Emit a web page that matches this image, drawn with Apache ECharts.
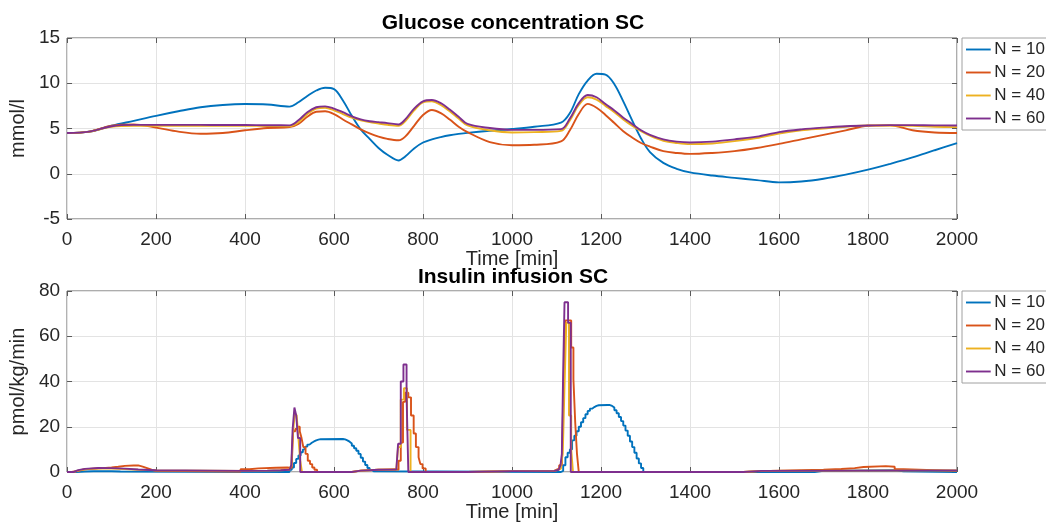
<!DOCTYPE html>
<html>
<head>
<meta charset="utf-8">
<script src="https://cdn.jsdelivr.net/npm/echarts@6/dist/echarts.min.js"></script>
<style>
  html, body { margin: 0; padding: 0; background: #fff; }
  #chart { width: 1046px; height: 528px; }
</style>
</head>
<body>
<div id="chart"></div>
<script>
// glucose, mmol/l, sampled along time [min]
var glucoseTime = [0, 50, 100, 150, 200, 250, 300, 350, 400, 450,
  500, 520, 540, 560, 580, 600, 620, 640, 660, 680,
  700, 720, 745, 760, 780, 800, 820, 840, 860, 880,
  900, 950, 1000, 1050, 1110, 1130, 1150, 1170, 1190, 1210,
  1230, 1250, 1270, 1290, 1310, 1340, 1370, 1400, 1450, 1500,
  1550, 1600, 1650, 1700, 1750, 1800, 1850, 1900, 1950, 2000];
var glucoseN10 = [4.5, 4.65, 5.3, 5.85, 6.4, 6.9, 7.35, 7.6, 7.7, 7.65,
  7.42, 7.9, 8.6, 9.2, 9.5, 9.35, 8.1, 6.4, 4.9, 3.85,
  2.85, 2.1, 1.47, 1.9, 2.8, 3.45, 3.8, 4.05, 4.25, 4.4,
  4.52, 4.75, 4.95, 5.2, 5.65, 6.7, 8.8, 10.3, 11.05, 10.95,
  9.9, 8.0, 5.9, 3.9, 2.4, 1.2, 0.55, 0.15, -0.2, -0.45,
  -0.7, -0.95, -0.85, -0.55, -0.1, 0.45, 1.1, 1.8, 2.6, 3.38];
var glucoseN20 = [4.5, 4.65, 5.3, 5.45, 5.1, 4.65, 4.42, 4.5, 4.8, 5.05,
  5.15, 5.5, 6.3, 6.85, 6.9, 6.6, 6.0, 5.45, 4.9, 4.45,
  4.1, 3.85, 3.7, 4.1, 5.3, 6.5, 7.05, 6.7, 6.0, 5.2,
  4.6, 3.5, 3.15, 3.2, 3.57, 4.8, 6.6, 7.72, 7.3, 6.5,
  5.6, 4.7, 4.0, 3.4, 3.0, 2.5, 2.3, 2.2, 2.3, 2.5,
  2.85, 3.3, 3.8, 4.3, 4.8, 5.3, 5.35, 4.8, 4.55, 4.5];
var glucoseN40 = [4.5, 4.65, 5.2, 5.3, 5.3, 5.3, 5.3, 5.3, 5.3, 5.28,
  5.25, 5.7, 6.6, 7.2, 7.3, 7.0, 6.6, 6.2, 5.9, 5.7,
  5.55, 5.4, 5.3, 5.8, 7.0, 7.9, 8.0, 7.6, 6.9, 6.1,
  5.35, 4.8, 4.56, 4.6, 4.74, 5.9, 7.6, 8.45, 8.2, 7.5,
  6.8, 6.0, 5.3, 4.7, 4.2, 3.65, 3.4, 3.27, 3.35, 3.6,
  3.95, 4.45, 4.8, 5.0, 5.2, 5.33, 5.33, 5.3, 5.2, 5.15];
var glucoseN60 = [4.5, 4.65, 5.25, 5.4, 5.4, 5.4, 5.4, 5.38, 5.38, 5.36,
  5.35, 5.9, 6.8, 7.35, 7.45, 7.2, 6.8, 6.35, 6.0, 5.8,
  5.7, 5.6, 5.45, 6.0, 7.2, 8.0, 8.15, 7.8, 7.1, 6.3,
  5.5, 5.05, 4.85, 4.85, 4.93, 6.1, 7.8, 8.7, 8.45, 7.7,
  7.0, 6.2, 5.5, 4.8, 4.3, 3.8, 3.55, 3.46, 3.55, 3.8,
  4.1, 4.6, 4.9, 5.1, 5.25, 5.33, 5.37, 5.37, 5.35, 5.33];

// insulin infusion, pmol/kg/min: [time where the step starts, value]
var insulinN10 = [[0, 0], [20, 0.2], [40, 0.3], [60, 0.4], [80, 0.3], [100, 0.2], [120, 0],
  [500, 1], [505, 2], [510, 4], [515, 5.8], [520, 7.3], [525, 8.7], [530, 10], [535, 11.2],
  [540, 12.1], [545, 12.9], [550, 13.5], [555, 14], [560, 14.3], [565, 14.5], [570, 14.6],
  [620, 14.4], [625, 14], [630, 13.4], [635, 12.6], [640, 11.6], [645, 10.5], [650, 9.4],
  [655, 8], [660, 6.3], [665, 4.6], [670, 3.1], [675, 1.8], [680, 0.9], [685, 0.3], [690, 0],
  [1110, 0.5], [1115, 3], [1120, 6.5], [1125, 8.5], [1130, 10], [1135, 14], [1140, 16],
  [1145, 18], [1150, 20], [1155, 22], [1160, 23.8], [1165, 25.5], [1170, 27], [1175, 28],
  [1180, 28.7], [1185, 29.2], [1190, 29.5], [1195, 29.6],
  [1215, 29.6], [1220, 29.2], [1225, 28.5], [1230, 27.3], [1235, 26], [1240, 24.3],
  [1245, 22.5], [1250, 20.5], [1255, 18.3], [1260, 16], [1265, 13.5], [1270, 11],
  [1275, 8.5], [1280, 6], [1285, 3.8], [1290, 1.8], [1295, 0],
  [1680, 0.5], [1700, 0.8], [1860, 0.3], [1880, 0], [2000, 0]];
var insulinN20 = [[0, 0], [10, 0.5], [25, 1.2], [40, 1.5], [60, 1.7], [80, 2.0], [100, 2.3],
  [115, 2.7], [130, 2.9], [150, 2.9], [160, 2.4], [170, 1.7], [180, 1.0], [190, 0.5], [200, 0.2],
  [390, 1.2], [410, 1.6], [430, 1.9], [470, 2.0], [495, 1.8],
  [505, 3], [508, 18], [513, 19], [518, 20], [523, 18], [527, 15], [531, 11], [536, 8],
  [541, 5], [546, 3.5], [551, 2], [556, 1], [562, 0],
  [640, 0.6], [660, 1.0], [700, 1.2], [740, 1.0],
  [745, 5], [750, 13], [755, 31], [760, 35], [767, 33], [773, 25], [779, 17], [784, 11],
  [790, 6.5], [794, 3.5], [799, 1.6], [806, 0],
  [900, 0.4], [1000, 0.5], [1095, 1], [1100, 1.5], [1106, 3], [1112, 5],
  [1116, 40], [1120, 67], [1133, 55], [1138, 41], [1142, 22], [1146, 8], [1150, 0],
  [1520, 0.4], [1560, 0.6], [1600, 0.8], [1650, 1.0], [1700, 1.3], [1740, 1.7], [1770, 2.2],
  [1790, 2.6], [1840, 2.3], [1860, 1.2], [1880, 0.5], [2000, 0.5]];
var insulinN40 = [[0, 0], [15, 0.6], [25, 1.2], [40, 1.5], [70, 1.5], [100, 1.3], [130, 1.0],
  [160, 0.7], [200, 0.5], [400, 0.6], [450, 0.8], [480, 1.0], [500, 1.2],
  [504, 3], [508, 18], [512, 26], [516, 25], [520, 15], [524, 5], [528, 0],
  [640, 0.6], [660, 1.0], [700, 1.1], [740, 1.0],
  [744, 11], [750, 32], [757, 37], [764, 18.6], [772, 0],
  [900, 0.4], [1000, 0.5], [1095, 1], [1105, 1.5], [1110, 3], [1114, 8],
  [1118, 38], [1122, 66], [1128, 25], [1133, 10], [1137, 0],
  [1520, 0.5], [1560, 0.7], [2000, 0.7]];
var insulinN60 = [[0, 0], [15, 0.8], [25, 1.4], [40, 1.8], [70, 1.7], [100, 1.5], [130, 1.1],
  [160, 0.8], [200, 0.5], [400, 0.6], [450, 0.8], [480, 1.0], [500, 1.3],
  [504, 3], [507, 19], [511, 28.5], [515, 25], [519, 15], [524, 0],
  [640, 0.6], [660, 1.0], [700, 1.1], [740, 1.0],
  [744, 12.5], [750, 40], [756, 47.5], [763, 34], [767, 0],
  [900, 0.4], [1000, 0.5], [1095, 1], [1105, 1.5], [1109, 3], [1112, 8],
  [1115, 45], [1118, 75], [1126, 66], [1132, 0],
  [1520, 0.5], [1560, 0.7], [2000, 0.7]];

var names = ['N = 10', 'N = 20', 'N = 40', 'N = 60'];
var colors = ['#0072BD', '#D95319', '#EDB120', '#7E2F8E'];

var FONT = '"Liberation Sans", Arial, Helvetica, sans-serif';
var TXT = '#262626';
var BOX = '#5a5a5a';
// thin line legend icon; the zero-length moves keep the icon box at full height
var LINE_ICON = 'path://M0,0L0,0M0,9L26,9L26,11L0,11ZM26,20L26,20';

function pairs(xs, ys) {
  var out = [];
  for (var i = 0; i < xs.length; i++) out.push([xs[i], ys[i]]);
  return out;
}

function xAx(gridIndex, pos, label) {
  return {
    type: 'value', gridIndex: gridIndex, position: pos,
    min: 0, max: 2000, interval: 200,
    name: label ? 'Time [min]' : '', nameLocation: 'middle', nameGap: 28,
    nameTextStyle: { color: TXT, fontSize: 20, fontFamily: FONT },
    axisLine: { show: false, onZero: false },
    axisTick: { show: true, inside: true, length: 5, lineStyle: { color: BOX } },
    axisLabel: { show: label, color: TXT, fontSize: 19, fontFamily: FONT, margin: 11,
      formatter: function (v) { return String(v); } },
    splitLine: { show: label, lineStyle: { color: '#e3e3e3', width: 1 } }
  };
}

function yAx(gridIndex, pos, label, min, max, interval, name) {
  return {
    type: 'value', gridIndex: gridIndex, position: pos,
    min: min, max: max, interval: interval,
    name: label ? name : '', nameLocation: 'middle', nameGap: 27, nameRotate: 90,
    nameTextStyle: { color: TXT, fontSize: 20, fontFamily: FONT },
    axisLine: { show: false, onZero: false },
    axisTick: { show: true, inside: true, length: 5, lineStyle: { color: BOX } },
    axisLabel: { show: label, color: TXT, fontSize: 19, fontFamily: FONT, margin: 7,
      formatter: function (v) { return String(v); } },
    splitLine: { show: label, lineStyle: { color: '#e3e3e3', width: 1 } }
  };
}

function legendAt(top) {
  return {
    data: names, orient: 'vertical', left: 962, top: top,
    icon: LINE_ICON,
    itemWidth: 26, itemHeight: 19, itemGap: 4,
    padding: [2, 6, 2, 4],
    borderColor: '#a0a0a0', borderWidth: 1, backgroundColor: '#fff',
    textStyle: { color: TXT, fontSize: 17, fontFamily: FONT, lineHeight: 19, padding: [0, 0, 0, -2] }
  };
}

var series = [];
var glucoseData = [glucoseN10, glucoseN20, glucoseN40, glucoseN60];
var insulinData = [insulinN10, insulinN20, insulinN40, insulinN60];
for (var k = 0; k < 4; k++) {
  series.push({
    name: names[k], type: 'line', xAxisIndex: 0, yAxisIndex: 0,
    data: pairs(glucoseTime, glucoseData[k]),
    smooth: 0.35, symbol: 'none', color: colors[k],
    lineStyle: { width: 1.9 }
  });
}
for (var k = 0; k < 4; k++) {
  series.push({
    name: names[k], type: 'line', xAxisIndex: 2, yAxisIndex: 2,
    data: insulinData[k],
    step: 'end', symbol: 'none', color: colors[k],
    lineStyle: { width: 1.9 }
  });
}

var chart = echarts.init(document.getElementById('chart'), null, { renderer: 'canvas' });
chart.setOption({
  animation: false,
  backgroundColor: '#fff',
  title: [
    { text: 'Glucose concentration SC', left: 508, top: 8, textAlign: 'center',
      textStyle: { fontSize: 21, fontWeight: 'bold', color: '#000', fontFamily: FONT } },
    { text: 'Insulin infusion SC', left: 508, top: 262, textAlign: 'center',
      textStyle: { fontSize: 21, fontWeight: 'bold', color: '#000', fontFamily: FONT } }
  ],
  legend: [legendAt(38), legendAt(291)],
  grid: [
    { left: 60, top: 38, width: 897, height: 181, show: true, borderColor: BOX, borderWidth: 1 },
    { left: 60, top: 291, width: 897, height: 181, show: true, borderColor: BOX, borderWidth: 1 }
  ],
  xAxis: [xAx(0, 'bottom', true), xAx(0, 'top', false), xAx(1, 'bottom', true), xAx(1, 'top', false)],
  yAxis: [
    yAx(0, 'left', true, -5, 15, 5, 'mmol/l'), yAx(0, 'right', false, -5, 15, 5, ''),
    yAx(1, 'left', true, 0, 80, 20, 'pmol/kg/min'), yAx(1, 'right', false, 0, 80, 20, '')
  ],
  series: series
});
</script>
</body>
</html>
